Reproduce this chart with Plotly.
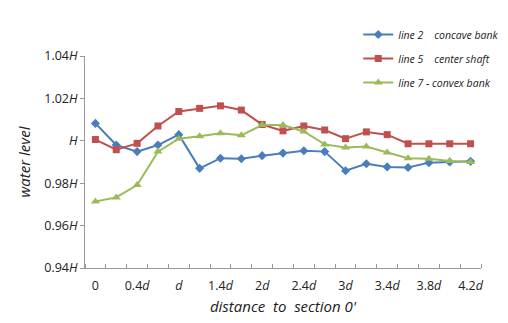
import plotly.graph_objects as go

x_index = list(range(19))
tick_positions = [0, 2, 4, 6, 8, 10, 12, 14, 16, 18]
tick_labels = ["0", "0.4<i>d</i>", "<i>d</i>", "1.4<i>d</i>", "2<i>d</i>", "2.4<i>d</i>",
               "3<i>d</i>", "3.4<i>d</i>", "3.8<i>d</i>", "4.2<i>d</i>"]

y_ticks = [0.94, 0.96, 0.98, 1.00, 1.02, 1.04]
y_tick_labels = ["0.94<i>H</i>", "0.96<i>H</i>", "0.98<i>H</i>", "<i>H</i>", "1.02<i>H</i>", "1.04<i>H</i>"]

line2_concave = [1.0082, 0.9980, 0.9949, 0.9980, 1.0029, 0.9870, 0.9918, 0.9915, 0.9930, 0.9942,
                 0.9953, 0.9949, 0.9859, 0.9892, 0.9877, 0.9874, 0.9897, 0.9900, 0.9903]
line5_center = [1.0006, 0.9958, 0.9988, 1.0070, 1.0138, 1.0153, 1.0165, 1.0145, 1.0077, 1.0047,
                1.0070, 1.0051, 1.0010, 1.0042, 1.0029, 0.9986, 0.9986, 0.9986, 0.9986]
line7_convex = [0.9714, 0.9733, 0.9791, 0.9949, 1.0010, 1.0021, 1.0036, 1.0026, 1.0074, 1.0074,
                1.0044, 0.9983, 0.9968, 0.9973, 0.9945, 0.9918, 0.9915, 0.9905, 0.9900]

fig = go.Figure()
series = [
    ("<i>line 2&nbsp;&nbsp;&nbsp;&nbsp;concave bank</i>", line2_concave, "#4A7EBB", "diamond", 7),
    ("<i>line 5&nbsp;&nbsp;&nbsp;&nbsp;center shaft</i>", line5_center, "#C0504D", "square", 7),
    ("<i>line 7 - convex bank</i>", line7_convex, "#9BBB59", "triangle-up", 8),
]
for i, (name, vals, color, sym, size) in enumerate(series):
    fig.add_trace(go.Scatter(
        x=x_index, y=vals, name=name, mode="lines+markers",
        line=dict(color=color, width=2),
        marker=dict(symbol=sym, size=size, color=color),
        legendgroup=str(i),
    ))

font_family = "Open Sans, Noto Sans, sans-serif"
fig.update_layout(
    width=508, height=323,
    margin=dict(l=77, r=18, t=40, b=63),
    paper_bgcolor="white", plot_bgcolor="white",
    font=dict(family=font_family, color="#222", size=12),
    showlegend=True,
    legend=dict(x=0.69, y=1.17, xanchor="left", yanchor="top",
                font=dict(size=10.5, color="#222"),
                traceorder="grouped", tracegroupgap=5,
                bgcolor="rgba(0,0,0,0)"),
    xaxis=dict(
        range=[-0.5, 18.5], tickvals=tick_positions, ticktext=tick_labels,
        ticks="", showgrid=False, zeroline=False,
        showline=True, linecolor="#999", linewidth=1,
        tickfont=dict(size=12.5, color="#222"),
        ticklabelstandoff=6,
        minor=dict(tickvals=[i - 0.5 for i in range(20)], ticks="inside",
                   ticklen=4, tickcolor="#999", showgrid=False),
        title=dict(text="<i>distance  to  section 0'</i>", font=dict(size=15, color="#222"),
                   standoff=8),
    ),
    yaxis=dict(
        range=[0.94, 1.04], tickvals=y_ticks, ticktext=y_tick_labels,
        ticks="outside", ticklen=4, tickcolor="#999",
        showgrid=False, zeroline=False,
        showline=True, linecolor="#999", linewidth=1,
        tickfont=dict(size=12.5, color="#222"),
        title=dict(text="<i>water level</i>", font=dict(size=15, color="#222"), standoff=10),
    ),
)

fig.write_html("out.html")
